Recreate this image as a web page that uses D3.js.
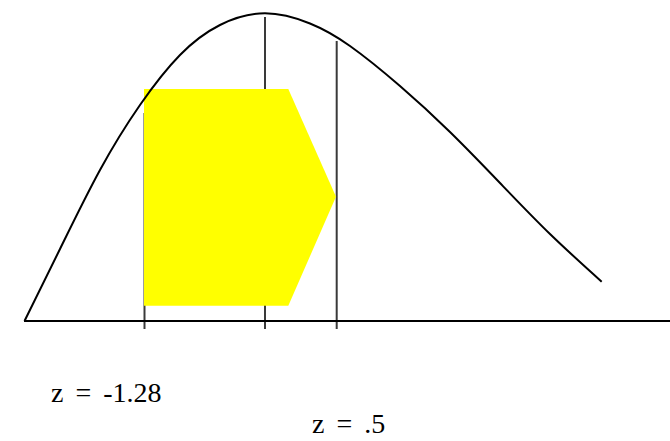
<!DOCTYPE html>
<html>
<head>
<meta charset="utf-8">
<script src="https://cdn.jsdelivr.net/npm/d3@7"></script>
<style>
  html, body { margin: 0; padding: 0; background: #fff; }
  svg { display: block; }
</style>
</head>
<body>
<div id="chart"></div>
<script>
// Curve samples: horizontal position and height above the baseline (chart units)
const curveX = [24.5, 60, 100, 140, 180, 220, 265, 310, 350, 400, 450, 500, 550, 601.7];
const curveH = [0, 72, 151, 216, 266, 296, 307.7, 297.5, 275, 235, 189, 138, 87, 39.3];

// Vertical marker lines: position and top height
const markerX = [144.5, 265, 336.7];
const markerTop = [208, 304, 280];
const markerBottom = -8;

// Shaded (yellow) region outline
const shadeX = [144, 288.3, 336, 288.3, 144];
const shadeH = [232, 232, 124.3, 15.3, 15.3];

// Axis extent
const axisX = [24, 670];

// Labels
const labels = ["z = -1.28", "z = .5"];
const labelX = [51, 312];
const labelH = [-81, -112];

const W = 670, H = 441;
const x = d3.scaleLinear().domain([0, 670]).range([0, 670]);
const y = d3.scaleLinear().domain([0, 308]).range([321, 13]);

const svg = d3.select("#chart").append("svg")
  .attr("width", W).attr("height", H);

// vertical markers (behind the shaded region)
svg.append("g").selectAll("line")
  .data(markerX)
  .join("line")
  .attr("x1", d => x(d)).attr("x2", d => x(d))
  .attr("y1", (d, i) => y(markerTop[i]))
  .attr("y2", y(markerBottom))
  .attr("stroke", "#3a3a3a")
  .attr("stroke-width", 2);

// shaded region
const shadePts = shadeX.map((d, i) => [x(d), y(shadeH[i])]);
svg.append("path")
  .attr("d", d3.line()(shadePts) + "Z")
  .attr("fill", "#ffff00");

// baseline
svg.append("line")
  .attr("x1", x(axisX[0])).attr("x2", x(axisX[1]))
  .attr("y1", y(0)).attr("y2", y(0))
  .attr("stroke", "#000").attr("stroke-width", 2);

// curve
const curvePts = curveX.map((d, i) => ({x: d, h: curveH[i]}));
svg.append("path")
  .datum(curvePts)
  .attr("d", d3.line().x(d => x(d.x)).y(d => y(d.h)).curve(d3.curveNatural))
  .attr("fill", "none")
  .attr("stroke", "#000")
  .attr("stroke-width", 2);

// labels
svg.append("g").selectAll("text")
  .data(labels)
  .join("text")
  .attr("x", (d, i) => x(labelX[i]))
  .attr("y", (d, i) => y(labelH[i]))
  .attr("font-family", "'Liberation Serif', 'Times New Roman', serif")
  .attr("font-size", 28)
  .attr("word-spacing", 5)
  .attr("fill", "#000")
  .text(d => d);
</script>
</body>
</html>
